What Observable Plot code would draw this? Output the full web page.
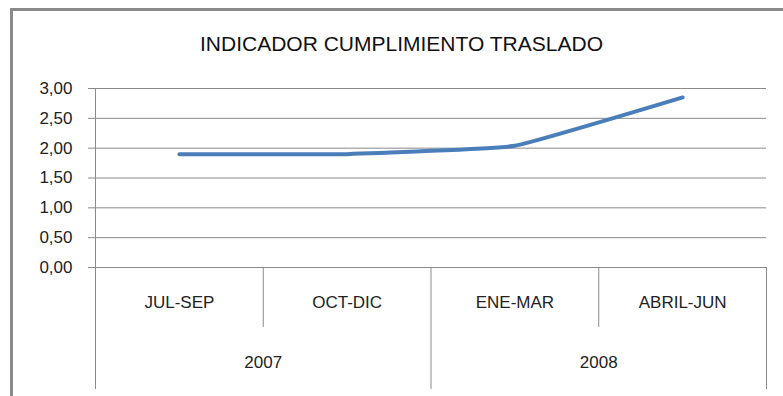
<!DOCTYPE html>
<html>
<head>
<meta charset="utf-8">
<script src="https://cdn.jsdelivr.net/npm/d3@7"></script>
<script src="https://cdn.jsdelivr.net/npm/@observablehq/plot@0.6"></script>
<style>
  html, body { margin: 0; padding: 0; background: #fff; }
  #wrap { position: relative; width: 783px; height: 396px; overflow: hidden; background: #fff;
          font-family: "Liberation Sans", Arial, sans-serif; }
  #border { position: absolute; left: 10px; top: 8px; width: 820px; height: 440px;
            border: 3px solid #8a8a8a; box-sizing: border-box; }
  #title { position: absolute; left: 0; width: 803px; top: 32px; text-align: center;
           font-size: 21px; color: #111; line-height: 24px; white-space: nowrap; }
  #chart { position: absolute; left: 0; top: 0; }
</style>
</head>
<body>
<div id="wrap">
  <div id="border"></div>
  <div id="title">INDICADOR CUMPLIMIENTO TRASLADO</div>
  <div id="chart"></div>
</div>
<script>
// Quarterly compliance indicator, grouped by year
const quarters = ["JUL-SEP", "OCT-DIC", "ENE-MAR", "ABRIL-JUN"];
const years = ["2007", "2007", "2008", "2008"];
const values = [1.90, 1.90, 2.04, 2.85];
const yTicks = [0, 0.5, 1, 1.5, 2, 2.5, 3];

const data = quarters.map((q, i) => ({i, quarter: q, year: years[i], value: values[i]}));

// Year groups: first/last quarter index of each year
const yearGroups = d3.groups(data, d => d.year).map(([year, rows]) => ({
  year,
  first: d3.min(rows, d => d.i),
  last: d3.max(rows, d => d.i)
}));
const yearMid = new Map(yearGroups.map(g => [(g.first + g.last) / 2, g.year]));
// Divider positions between quarters within a year, and between years
const quarterEdges = data.slice(1).filter((d, k) => d.year === data[k].year).map(d => d.i - 0.5);
const yearEdges = [-0.5, ...yearGroups.map(g => g.last + 0.5)];

const grey = "#8a8a8a";
const ink = "#222";
const fmt = v => v.toFixed(2).replace(".", ",");

const chart = Plot.plot({
  width: 783,
  height: 396,
  marginLeft: 95,
  marginRight: 17,
  marginTop: 88,
  marginBottom: 129,
  style: {fontFamily: "'Liberation Sans', Arial, sans-serif", fontSize: "17px", background: "transparent", overflow: "visible"},
  x: {type: "linear", domain: [-0.5, quarters.length - 0.5], axis: null},
  y: {domain: [0, 3], axis: null},
  marks: [
    Plot.gridY(yTicks, {stroke: grey, strokeOpacity: 1}),
    Plot.ruleX([-0.5], {stroke: grey}),
    Plot.axisY(yTicks, {tickSize: 7, tickPadding: 16, tickFormat: fmt, stroke: grey, fill: ink, fontSize: 17, label: null}),
    // quarter separators below the axis
    Plot.axisX(quarterEdges, {tickSize: 60, tickFormat: () => "", stroke: grey, label: null}),
    // year separators, extending further down
    Plot.axisX(yearEdges, {tickSize: 122, tickFormat: () => "", stroke: grey, label: null}),
    // quarter labels
    Plot.axisX(data.map(d => d.i), {tickSize: 0, tickPadding: 28, tickFormat: i => quarters[i], fill: ink, fontSize: 17, label: null}),
    // year labels
    Plot.axisX([...yearMid.keys()], {tickSize: 0, tickPadding: 88, tickFormat: m => yearMid.get(m), fill: ink, fontSize: 17, label: null}),
    Plot.line(data, {x: "i", y: "value", stroke: "#4a7ebb", strokeWidth: 4, curve: "cardinal", tension: 0.7, strokeLinecap: "round", strokeLinejoin: "round"})
  ]
});

document.getElementById("chart").append(chart);
</script>
</body>
</html>
